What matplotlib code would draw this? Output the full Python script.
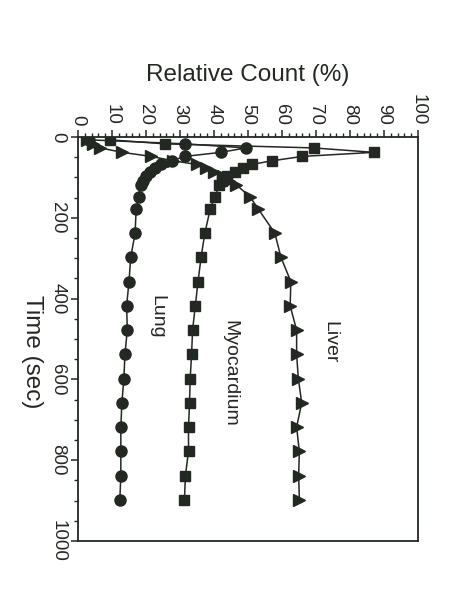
import matplotlib
matplotlib.use("Agg")
import matplotlib.pyplot as plt
from matplotlib.ticker import MultipleLocator

plt.rcParams['font.family'] = ['Liberation Sans', 'DejaVu Sans']

# Time (sec)
time_sec = [7, 17, 27, 38, 48, 59, 68, 77, 87, 97, 108, 118, 148, 178,
            238, 298, 358, 418, 478, 538, 598, 658, 718, 778, 838, 898]
# Relative count (%)
lung = [3.3, 31.5, 49.4, 42.0, 31.5, 27.5, 24.3, 22.6, 21.2, 20.0, 19.0, 18.5,
        17.9, 17.1, 16.8, 15.5, 15.0, 14.3, 14.5, 13.8, 13.5, 12.9, 12.6, 12.6,
        12.6, 12.3]
myocardium = [9.4, 25.6, 69.3, 87.0, 66.0, 57.0, 51.1, 48.6, 46.2, 43.7, 42.3,
              41.6, 40.3, 38.9, 37.3, 36.2, 35.3, 34.5, 33.7, 33.4, 33.0, 32.8,
              32.5, 32.5, 31.6, 31.3]
liver = [2.5, 4.5, 6.5, 13.0, 21.5, 28.0, 35.0, 37.5, 40.0, 42.5, 44.5, 46.5,
         50.6, 53.0, 57.9, 59.7, 62.6, 62.4, 64.3, 64.3, 64.8, 65.8, 64.3, 65.1,
         64.9, 65.1]
series_labels = ["Lung", "Myocardium", "Liver"]
count_ticks = [0, 10, 20, 30, 40, 50, 60, 70, 80, 90, 100]
time_ticks = [0, 200, 400, 600, 800, 1000]

W, H = 454, 609
fig = plt.figure(figsize=(W / 100, H / 100), dpi=100)
fig.patch.set_facecolor('white')

L, R, T, B = 78, 418, 137, 541
ax = fig.add_axes([L / W, 1 - B / H, (R - L) / W, (B - T) / H])

ink = '#232823'
ax.plot(liver, time_sec, color=ink, lw=1.1, marker='>', ms=8, mfc=ink, mec=ink, zorder=3)
ax.plot(myocardium, time_sec, color=ink, lw=1.1, marker='s', ms=7.5, mfc=ink, mec=ink, zorder=4)
ax.plot(lung, time_sec, color=ink, lw=1.1, marker='o', ms=8, mfc=ink, mec=ink, zorder=5)

ax.set_xlim(0, 100)
ax.set_ylim(1000, 0)
ax.xaxis.tick_top()
ax.set_xticks(count_ticks)
ax.set_xticklabels([str(v) for v in count_ticks], rotation=-90, fontsize=13.5)
ax.set_yticks(time_ticks)
ax.set_yticklabels([str(v) for v in time_ticks], rotation=-90, va='center', fontsize=13.5)
ax.xaxis.set_minor_locator(MultipleLocator(2))
ax.yaxis.set_minor_locator(MultipleLocator(50))
ax.tick_params(which='major', direction='out', length=5, width=1.1, color=ink,
               labelcolor=ink, pad=3.5)
ax.tick_params(which='minor', direction='out', length=3, width=1.0, color=ink)
ax.tick_params(axis='x', which='both', top=True, bottom=False)
ax.tick_params(axis='y', which='both', left=True, right=False)
for s in ax.spines.values():
    s.set_color(ink)
    s.set_linewidth(1.3)

# axis titles (rotated layout)
fig.text(248 / W, 1 - 75 / H, "Relative Count (%)", ha='center', va='center',
         fontsize=17.5, color=ink)
fig.text(32 / W, 1 - 352 / H, "Time (sec)", ha='center', va='center',
         rotation=-90, fontsize=17.5, color=ink)


def put(label, px, py):
    fig.text(px / W, 1 - py / H, label, rotation=-90, ha='center', va='center',
             fontsize=14, color=ink)


put(series_labels[2], 330, 342)
put(series_labels[1], 230, 373)
put(series_labels[0], 157, 317)

fig.savefig("out.png", dpi=100, facecolor='white')
